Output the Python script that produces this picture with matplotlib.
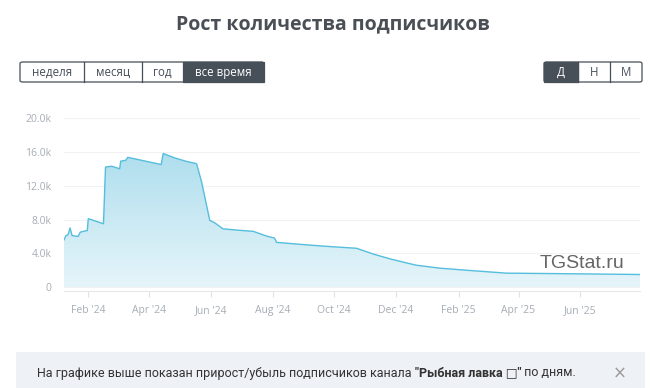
import matplotlib
matplotlib.use("Agg")
import matplotlib.pyplot as plt
import matplotlib.dates as mdates
import numpy as np
from matplotlib.colors import LinearSegmentedColormap
from matplotlib.patches import FancyBboxPatch, Rectangle
from datetime import datetime

# subscriber counts (thousands)
dates = [
    "2024-01-08", "2024-01-10", "2024-01-12", "2024-01-14", "2024-01-16",
    "2024-01-22", "2024-01-24", "2024-01-27", "2024-01-31", "2024-02-01",
    "2024-02-16", "2024-02-18", "2024-02-24", "2024-03-03", "2024-03-04",
    "2024-03-09", "2024-03-11", "2024-04-13", "2024-04-15", "2024-04-26",
    "2024-05-07", "2024-05-18", "2024-05-23", "2024-05-31", "2024-06-05",
    "2024-06-13", "2024-06-30", "2024-07-13", "2024-07-20", "2024-07-26",
    "2024-08-03", "2024-08-05", "2024-09-04", "2024-09-27", "2024-10-23",
    "2024-11-09", "2024-11-25", "2024-12-12", "2024-12-21", "2025-01-13",
    "2025-02-09", "2025-03-20", "2025-05-12", "2025-07-30",
]
subscribers = [
    5.6, 6.1, 6.2, 7.0, 6.1,
    6.0, 6.5, 6.6, 6.7, 8.1,
    7.5, 14.2, 14.3, 14.0, 14.9,
    15.0, 15.35, 14.5, 15.8, 15.3,
    14.9, 14.6, 12.4, 7.9, 7.6,
    6.9, 6.72, 6.6, 6.3, 6.05,
    5.8, 5.3, 5.0, 4.8, 4.6,
    3.9, 3.35, 2.85, 2.6, 2.25,
    2.0, 1.66, 1.6, 1.5,
]
y_ticks = [0, 4000, 8000, 12000, 16000, 20000]
y_labels = ["0", "4.0k", "8.0k", "12.0k", "16.0k", "20.0k"]
x_ticks = ["2024-02-01", "2024-04-01", "2024-06-01", "2024-08-01", "2024-10-01",
           "2024-12-01", "2025-02-01", "2025-04-01", "2025-06-01"]
period_buttons = ["неделя", "месяц", "год", "все время"]
group_buttons = ["Д", "Н", "М"]

W, H = 653, 388
DARK = "#474f59"


def px(x, y):
    """Pixel coords (top-left origin) to figure fraction."""
    return x / W, 1 - y / H


def button_row(fig, x0, y0, widths, labels, active):
    h = 20
    x = x0
    fig.add_artist(FancyBboxPatch(px(x0, y0 + h), sum(widths) / W, h / H,
                                  boxstyle="round,pad=0,rounding_size=0.004",
                                  transform=fig.transFigure, fc="white",
                                  ec=DARK, lw=0.9))
    for w, lab in zip(widths, labels):
        sel = lab == active
        if sel:
            fig.add_artist(Rectangle(px(x, y0 + h), w / W, h / H,
                                     transform=fig.transFigure, fc=DARK,
                                     ec=DARK, lw=0.9))
        elif x != x0:
            fig.add_artist(plt.Line2D([x / W, x / W], [1 - y0 / H, 1 - (y0 + h) / H],
                                      transform=fig.transFigure, color=DARK, lw=0.9))
        fig.text(*px(x + w / 2, y0 + h / 2 + 0.5), lab, ha="center", va="center",
                 fontsize=8.3, family="Open Sans",
                 color="white" if sel else DARK)
        x += w


def main():
    fig = plt.figure(figsize=(W / 100, H / 100), dpi=100)
    ax = fig.add_axes([64 / W, 1 - 291 / H, 576 / W, 173 / H])

    d = mdates.date2num([datetime.strptime(s, "%Y-%m-%d") for s in dates])
    v = np.array(subscribers) * 1000

    poly = ax.fill_between(d, v, 0, color="none", lw=0)
    cmap = LinearSegmentedColormap.from_list("g", ["#e6f5fa", "#a0d8ea"])
    grad = ax.imshow(np.linspace(0, 1, 256).reshape(-1, 1), cmap=cmap,
                     aspect="auto", origin="lower",
                     extent=[d[0], d[-1], 0, 20000], zorder=1)
    grad.set_clip_path(poly.get_paths()[0], transform=ax.transData)
    ax.plot(d, v, color="#55bedc", lw=1.0, zorder=3)

    ax.set_xlim(d[0], d[-1])
    ax.set_ylim(-450, 20000)
    ax.set_yticks(y_ticks)
    ax.set_yticklabels(y_labels)
    xt = mdates.date2num([datetime.strptime(s, "%Y-%m-%d") for s in x_ticks])
    ax.set_xticks(xt)
    ax.xaxis.set_major_formatter(mdates.DateFormatter("%b '%y"))
    ax.grid(axis="y", color="#f2f2f2", lw=0.8)
    ax.set_axisbelow(True)
    for s in ["top", "right", "left"]:
        ax.spines[s].set_visible(False)
    ax.spines["bottom"].set_color("#e6e8eb")
    ax.tick_params(axis="y", length=0, pad=9, labelsize=7.5, labelcolor="#a7adb5")
    ax.tick_params(axis="x", length=4, color="#e0e3e6", pad=6, labelsize=7.5,
                   labelcolor="#a7adb5")
    for t in ax.get_xticklabels() + ax.get_yticklabels():
        t.set_family("Open Sans")

    fig.text(*px(582, 264), "TGStat.ru", ha="center", va="center", fontsize=14,
             family="Liberation Sans", color="#666666", zorder=4)

    fig.text(*px(333, 24), "Рост количества подписчиков", ha="center", va="center",
             fontsize=14, fontweight="bold", family="Open Sans", color="#4a4f55")

    button_row(fig, 20, 62, [64, 58, 41, 81], period_buttons, "все время")
    button_row(fig, 544, 62, [34, 32, 32], group_buttons, "Д")

    fig.add_artist(Rectangle(px(16, 400), 629 / W, 48 / H, transform=fig.transFigure,
                             fc="#eef1f5", ec="none"))
    parts = [("На графике выше показан прирост/убыль подписчиков канала ", "normal"),
             ("\"Рыбная лавка \u25a1\"", "bold"),
             (" по дням.", "normal")]
    fig.canvas.draw()
    r = fig.canvas.get_renderer()
    x = 37
    for txt, wt in parts:
        t = fig.text(*px(x, 373), txt, ha="left", va="center", fontsize=9,
                     fontweight=wt, family=["Roboto", "DejaVu Sans"], color="#333333")
        x += t.get_window_extent(r).width
    fig.text(*px(620, 374), "\u00d7", ha="center", va="center", fontsize=12,
             color="#9a9a9a", family="DejaVu Sans")

    fig.savefig("out.png", dpi=100)


if __name__ == "__main__":
    main()
